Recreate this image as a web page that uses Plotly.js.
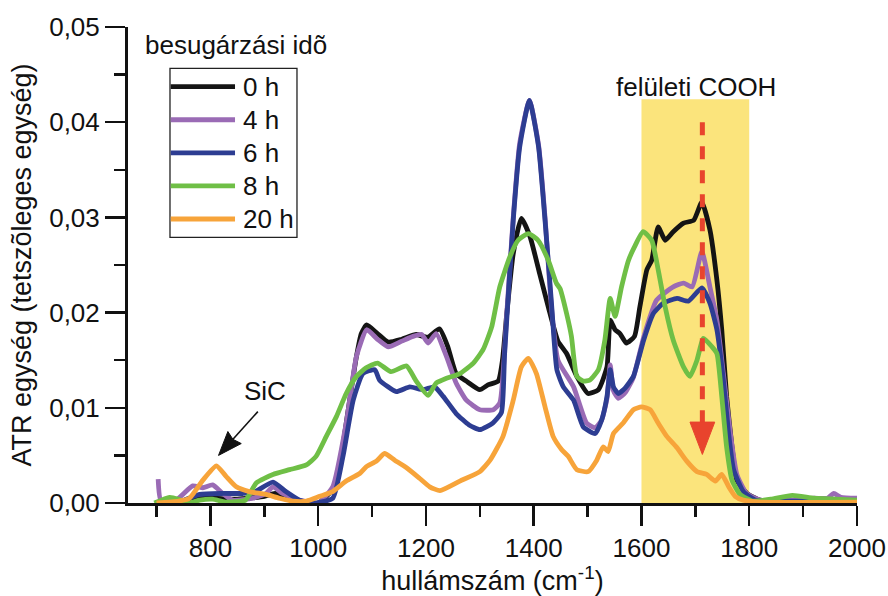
<!DOCTYPE html>
<html>
<head>
<meta charset="utf-8">
<script src="https://cdn.plot.ly/plotly-3.0.1.min.js"></script>
<style>html,body{margin:0;padding:0;background:#fff;}#chart{width:888px;height:596px;}</style>
</head>
<body>
<div id="chart"></div>
<script>
// ---- data ----
const seriesNames = ["0 h", "4 h", "6 h", "8 h", "20 h"];
const seriesColors = ["#141414", "#9a6bb5", "#2d3d92", "#6fbf46", "#f7a43a"];

const wn0 = [705,740,770,800,850,900,920,950,1000,1026,1040,1052,1071,1080,1090,1110,1130,1155,1182,1203,1225,1240,1256,1275,1300,1315,1334,1342,1350,1362,1377,1393,1411,1427,1445,1461,1480,1501,1520,1536,1542,1551,1560,1572,1587,1597,1610,1619,1631,1644,1659,1678,1697,1712,1727,1740,1749,1758,1768,1777,1796,1820,1850,1900,2000];
const atr0 = [0,0.0002,0.0004,0.0005,0.0004,0.0007,0.001,0.0003,0,0.0014,0.004,0.0084,0.0154,0.0178,0.0187,0.0178,0.0169,0.0172,0.0177,0.0174,0.0183,0.0165,0.0136,0.0128,0.0119,0.0124,0.0128,0.015,0.0199,0.0262,0.0299,0.028,0.0241,0.0206,0.017,0.0157,0.0133,0.0115,0.0119,0.0143,0.0192,0.0182,0.0178,0.0168,0.0175,0.0206,0.0245,0.0255,0.029,0.0276,0.0285,0.0294,0.0297,0.0316,0.0287,0.0234,0.0182,0.0112,0.0059,0.0024,0.001,0.0003,0.0001,0.0001,0.0001];

const wn4 = [703,708,736,767,786,804,823,841,879,903,916,934,965,1000,1027,1052,1071,1090,1110,1130,1155,1176,1192,1204,1219,1238,1256,1275,1300,1325,1337,1350,1362,1374,1392,1409,1421,1433,1445,1474,1498,1514,1526,1536,1542,1548,1557,1570,1585,1604,1628,1659,1678,1694,1712,1727,1740,1752,1765,1777,1795,1820,1870,1920,1945,1957,1970,2000];
const atr4 = [0.0025,0.0003,0.0003,0.0018,0.0016,0.0019,0.001,0.0003,0.0005,0.001,0.0017,0.001,0.0003,0,0.0017,0.0084,0.0154,0.0182,0.0172,0.0164,0.017,0.0175,0.0177,0.0168,0.0178,0.0154,0.0126,0.0108,0.0098,0.0098,0.0105,0.0199,0.03,0.0378,0.0423,0.0376,0.03,0.0205,0.015,0.0122,0.0084,0.0079,0.0087,0.011,0.0145,0.0118,0.011,0.0116,0.0132,0.0174,0.0213,0.0227,0.0231,0.0227,0.0264,0.0227,0.0192,0.0136,0.0073,0.003,0.001,0.0003,0.0003,0.0005,0.0005,0.001,0.0006,0.0005];

const wn6 = [740,760,780,820,860,880,916,940,965,995,1027,1046,1065,1083,1105,1114,1145,1170,1195,1216,1232,1256,1280,1300,1324,1340,1346,1362,1374,1392,1409,1421,1433,1443,1455,1474,1492,1514,1526,1536,1542,1548,1557,1570,1585,1604,1622,1641,1666,1687,1712,1727,1740,1752,1761,1771,1789,1811,1850,2000];
const atr6 = [0,0.0005,0.0009,0.001,0.001,0.0011,0.0022,0.0012,0.0003,0,0.0005,0.0049,0.0108,0.0136,0.014,0.0129,0.0117,0.0122,0.0119,0.0122,0.0112,0.0094,0.0082,0.0077,0.0084,0.0095,0.0157,0.0297,0.0374,0.0423,0.0374,0.0297,0.021,0.014,0.0122,0.0108,0.008,0.0073,0.0087,0.0112,0.014,0.0122,0.0115,0.0121,0.0133,0.0171,0.0199,0.021,0.0215,0.0212,0.0226,0.021,0.0182,0.0129,0.0077,0.0035,0.0012,0.0003,0.0002,0.0002];

const wn8 = [696,724,741,759,780,804,828,865,885,916,947,978,996,1015,1034,1052,1071,1089,1110,1135,1164,1182,1204,1219,1238,1263,1288,1306,1322,1337,1356,1371,1390,1408,1427,1442,1449,1461,1470,1480,1492,1504,1520,1532,1542,1551,1563,1576,1587,1603,1619,1631,1644,1659,1678,1690,1703,1715,1731,1740,1749,1758,1768,1783,1806,1840,1880,1920,1960,2000];
const atr8 = [0,0.0006,0.0004,0,0.0003,0.0004,0.0001,0.0003,0.0021,0.003,0.0035,0.004,0.0049,0.007,0.0091,0.0115,0.0133,0.0142,0.0147,0.0138,0.0144,0.0128,0.0113,0.0126,0.0131,0.0136,0.0147,0.0161,0.0185,0.0227,0.0259,0.0276,0.0283,0.0276,0.0255,0.0231,0.0225,0.0199,0.0175,0.0133,0.0128,0.0129,0.014,0.0171,0.0215,0.0196,0.0227,0.0255,0.0269,0.0285,0.0276,0.0245,0.0206,0.0171,0.0143,0.0133,0.015,0.0173,0.0164,0.0157,0.0112,0.0059,0.0024,0.0009,0.0002,0.0004,0.0008,0.0005,0.0004,0.0003];

const wn20 = [700,741,761,786,811,829,848,872,903,928,953,978,1003,1027,1052,1077,1089,1108,1123,1142,1164,1188,1207,1226,1263,1300,1319,1343,1362,1377,1390,1405,1421,1436,1452,1464,1480,1501,1517,1529,1538,1548,1566,1585,1600,1616,1631,1647,1666,1684,1703,1721,1737,1749,1762,1774,1789,1820,2000];
const atr20 = [0,0.0002,0.0005,0.0024,0.0039,0.0028,0.0017,0.0012,0.0009,0.0005,0.0002,0.0002,0.0007,0.0012,0.0023,0.0031,0.0038,0.0044,0.0052,0.0045,0.0037,0.0026,0.0017,0.0013,0.0023,0.0033,0.0045,0.007,0.0108,0.0143,0.0152,0.0136,0.0101,0.007,0.0056,0.0049,0.0035,0.0033,0.0045,0.0059,0.0054,0.0073,0.0084,0.0098,0.0101,0.0098,0.0084,0.007,0.0058,0.0044,0.0033,0.003,0.0023,0.003,0.0017,0.0007,0.0003,0.0001,0.0001];

const wnSeries = [wn0, wn4, wn6, wn8, wn20];
const atrSeries = [atr0, atr4, atr6, atr8, atr20];

// annotation anchors (data units)
const xRange = [647, 2000];
const yRange = [0, 0.05];
const coohBand = [1600, 1800];
const coohBandTop = 0.0424;
const coohArrowX = 1713;
const coohArrowTop = 0.040;
const coohArrowBase = 0.0085;
const coohArrowTip = 0.0051;
const coohHeadHalf = 23;
const sicTip = [815, 0.0050];
const sicTail = [888, 0.0096];
const sicLabel = [902, 0.0118];
const coohLabel = [1702, 0.0437];

// ---- styling ----
const FONT = "Liberation Sans, Arial, Helvetica, sans-serif";
const W = 888, H = 596, M = {l: 128, r: 31, t: 27, b: 93};
const pxX = (W - M.l - M.r) / (xRange[1] - xRange[0]);
const pxY = (H - M.t - M.b) / (yRange[1] - yRange[0]);

const traces = wnSeries.map((wn, i) => ({
  x: wn, y: atrSeries[i], type: "scatter", mode: "lines", name: seriesNames[i],
  line: {color: seriesColors[i], width: 4.8, shape: "spline", smoothing: 0.5},
  showlegend: false, hoverinfo: "skip"
}));

const shapes = [
  {type: "rect", xref: "x", yref: "y", x0: coohBand[0], x1: coohBand[1], y0: 0, y1: coohBandTop,
   fillcolor: "#fbe47c", line: {width: 0}, layer: "below"},
  {type: "line", xref: "x", yref: "y", x0: coohArrowX, x1: coohArrowX, y0: coohArrowTop, y1: coohArrowBase,
   line: {color: "#e8442d", width: 5, dash: "13px,11px"}},
  {type: "path", xref: "x", yref: "y",
   path: `M ${coohArrowX - coohHeadHalf},${coohArrowBase} L ${coohArrowX + coohHeadHalf},${coohArrowBase} L ${coohArrowX},${coohArrowTip} Z`,
   fillcolor: "#e8442d", line: {color: "#e8442d", width: 1}}
];

// SiC arrow: line + filled head, head computed in pixel space
(function () {
  const dxp = (sicTip[0] - sicTail[0]) * pxX;
  const dyp = -(sicTip[1] - sicTail[1]) * pxY;
  const len = Math.hypot(dxp, dyp);
  const ux = dxp / len, uy = dyp / len;
  const headLen = 24, headHalf = 9;
  const bx = -ux * headLen, by = -uy * headLen; // base center offset from tip (px)
  const px = -uy * headHalf, py = ux * headHalf;
  const toD = (ox, oy) => [sicTip[0] + ox / pxX, sicTip[1] - oy / pxY];
  const b = toD(bx * 0.9, by * 0.9);
  const c1 = toD(bx + px, by + py), c2 = toD(bx - px, by - py);
  shapes.push({type: "line", xref: "x", yref: "y", x0: sicTail[0], y0: sicTail[1], x1: b[0], y1: b[1],
    line: {color: "#111", width: 1.6}});
  shapes.push({type: "path", xref: "x", yref: "y",
    path: `M ${sicTip[0]},${sicTip[1]} L ${c1[0]},${c1[1]} L ${b[0]},${b[1]} L ${c2[0]},${c2[1]} Z`,
    fillcolor: "#111", line: {color: "#111", width: 1}});
})();

// custom legend (box, title outside)
const legBox = {x0: 0.0576, x1: 0.2318, y0: 0.558, y1: 0.913};
const legLineX = [0.0586, 0.1468];
const legTextX = 0.1546;
const legRowY0 = 0.8746, legRowStep = 0.0695;
shapes.push({type: "rect", xref: "paper", yref: "paper", x0: legBox.x0, x1: legBox.x1, y0: legBox.y0, y1: legBox.y1,
  line: {color: "#222", width: 1.3}, fillcolor: "rgba(0,0,0,0)"});
const annotations = [];
seriesNames.forEach((nm, i) => {
  const yy = legRowY0 - i * legRowStep;
  shapes.push({type: "line", xref: "paper", yref: "paper", x0: legLineX[0], x1: legLineX[1], y0: yy, y1: yy,
    line: {color: seriesColors[i], width: 4.8}});
  annotations.push({xref: "paper", yref: "paper", x: legTextX, y: yy, xanchor: "left", yanchor: "middle",
    text: nm, showarrow: false, font: {family: FONT, size: 26, color: "#111"}});
});
annotations.push({xref: "paper", yref: "paper", x: 0.0202, y: 0.962, xanchor: "left", yanchor: "middle",
  text: "besugárzási idõ", showarrow: false, font: {family: FONT, size: 26, color: "#111"}});
annotations.push({xref: "x", yref: "y", x: coohLabel[0], y: coohLabel[1], xanchor: "center", yanchor: "middle",
  text: "felületi COOH", showarrow: false, font: {family: FONT, size: 26, color: "#111"}});
annotations.push({xref: "x", yref: "y", x: sicLabel[0], y: sicLabel[1], xanchor: "center", yanchor: "middle",
  text: "SiC", showarrow: false, font: {family: FONT, size: 26, color: "#111"}});

const layout = {
  width: W, height: H,
  margin: M,
  paper_bgcolor: "#fff", plot_bgcolor: "#fff",
  separators: ", ",
  font: {family: FONT, size: 26, color: "#111"},
  showlegend: false,
  xaxis: {
    range: xRange, showgrid: false, zeroline: false,
    showline: true, linecolor: "#111", linewidth: 3,
    ticks: "outside", ticklen: 20, tickwidth: 2.5, tickcolor: "#111",
    tick0: 0, dtick: 200, tickformat: "d",
    minor: {ticks: "outside", ticklen: 11, tickwidth: 2.5, tickcolor: "#111", dtick: 100, tick0: 0, showgrid: false},
    tickfont: {family: FONT, size: 26, color: "#111"},
    title: {text: "hullámszám (cm<sup>-1</sup>)", font: {family: FONT, size: 27, color: "#111"}, standoff: 6}
  },
  yaxis: {
    range: yRange, showgrid: false, zeroline: false,
    showline: true, linecolor: "#111", linewidth: 3,
    ticks: "outside", ticklen: 20, tickwidth: 2.5, tickcolor: "#111",
    tick0: 0, dtick: 0.01, tickformat: ".2f",
    minor: {ticks: "outside", ticklen: 11, tickwidth: 2.5, tickcolor: "#111", dtick: 0.005, tick0: 0, showgrid: false},
    tickfont: {family: FONT, size: 26, color: "#111"},
    title: {text: "ATR egység (tetszõleges egység)", font: {family: FONT, size: 27, color: "#111"}, standoff: 10}
  },
  shapes: shapes,
  annotations: annotations
};

Plotly.newPlot("chart", traces, layout, {staticPlot: true, displayModeBar: false});
</script>
</body>
</html>
